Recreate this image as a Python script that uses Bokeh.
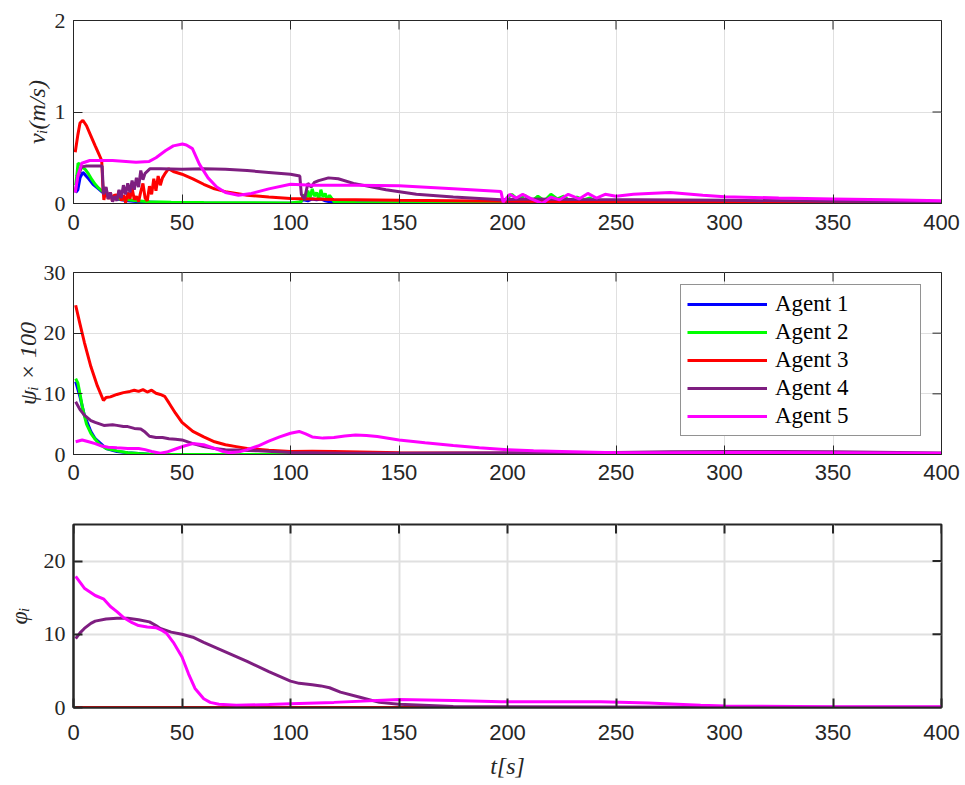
import math
from bokeh.plotting import figure
from bokeh.models import Range1d, FixedTicker, Legend, LegendItem
from bokeh.layouts import column
from bokeh.embed import file_html
from bokeh.resources import INLINE

# ---------------- data ----------------
agent_names = ["Agent 1", "Agent 2", "Agent 3", "Agent 4", "Agent 5"]
agent_colors = ["#0000ff", "#00ff00", "#ff0000", "#7e1e80", "#ff00ff"]

x_ticks = [0, 50, 100, 150, 200, 250, 300, 350, 400]
v_ticks = [0, 1, 2]
psi_ticks = [0, 10, 20, 30]
phi_ticks = [0, 10, 20]

# speed v_i (m/s): (t, value)
v_agent1 = [(1, 0.12), (2, 0.15), (3, 0.28), (4.3, 0.34), (5.5, 0.31), (7, 0.27), (9, 0.21),
            (11, 0.17), (13, 0.13), (16, 0.09), (20, 0.05), (25, 0.03), (30, 0.02), (40, 0.01),
            (60, 0.005), (100, 0.003), (104, 0.01), (106, 0.04), (108, 0.03), (110, 0.05),
            (112, 0.04), (114, 0.05), (116, 0.03), (118, 0.02), (120, 0.01), (150, 0.005),
            (200, 0.005), (300, 0.003), (400, 0.002)]
v_agent2 = [(1, 0.2), (1.5, 0.3), (2.1, 0.44), (3, 0.43), (4, 0.4), (5.5, 0.37), (7, 0.32),
            (8.5, 0.26), (10, 0.21), (11.5, 0.17), (13, 0.14), (15, 0.1), (18, 0.07), (21, 0.05),
            (25, 0.04), (29, 0.03), (35, 0.02), (45, 0.015), (60, 0.01), (80, 0.008), (100, 0.006),
            (105, 0.02), (106, 0.1), (107, 0.04), (108, 0.14), (109, 0.06), (110, 0.16), (111, 0.08),
            (112, 0.12), (113, 0.05), (114, 0.15), (115, 0.07), (116, 0.11), (117, 0.04), (118, 0.09),
            (120, 0.02), (130, 0.01), (150, 0.008), (198, 0.01), (200, 0.06), (202, 0.1), (205, 0.04),
            (208, 0.09), (211, 0.02), (214, 0.08), (217, 0.03), (220, 0.1), (223, 0.05), (226, 0.08),
            (229, 0.02), (232, 0.07), (235, 0.04), (238, 0.06), (241, 0.02), (245, 0.03), (250, 0.01),
            (300, 0.005), (400, 0.003)]
v_agent3 = [(0.8, 0.56), (2, 0.75), (3, 0.88), (4.3, 0.91), (6, 0.85), (8, 0.74), (10, 0.63),
            (11.5, 0.55), (13, 0.47), (13.5, 0.2), (14, 0.04), (15, 0.16), (16, 0.05), (17, 0.12),
            (18, 0.02), (19, 0.1), (20, 0.06), (21, 0.14), (22, 0.03), (23, 0.09), (24, 0.01),
            (25, 0.12), (26, 0.05), (27, 0.17), (28, 0.04), (29, 0.08), (30, 0.02), (31, 0.13),
            (32, 0.22), (33, 0.06), (34, 0.03), (35, 0.19), (36, 0.1), (37, 0.27), (38, 0.14),
            (39, 0.3), (40, 0.2), (41, 0.28), (42, 0.32), (43.8, 0.38), (46, 0.35), (50, 0.32),
            (55, 0.27), (60, 0.21), (65, 0.16), (70, 0.13), (80, 0.09), (90, 0.07), (100, 0.055),
            (120, 0.045), (150, 0.035), (200, 0.025), (250, 0.02), (300, 0.015), (350, 0.012),
            (400, 0.01)]
v_agent4 = [(0.8, 0.12), (2, 0.3), (3.8, 0.4), (6, 0.41), (9, 0.41), (12, 0.41), (13.2, 0.41),
            (13.8, 0.1), (15, 0.18), (16, 0.05), (17, 0.12), (18, 0.02), (19, 0.08), (20, 0.03),
            (21, 0.15), (22, 0.06), (23, 0.2), (24, 0.1), (25, 0.22), (26, 0.12), (27, 0.25),
            (28, 0.15), (29, 0.28), (30, 0.18), (31, 0.36), (32, 0.26), (33, 0.33), (35.3, 0.38),
            (40, 0.38), (50, 0.375), (60, 0.38), (70, 0.375), (80, 0.36), (90, 0.34), (100, 0.32),
            (104.3, 0.3), (105, 0.1), (106.5, 0.05), (108, 0.22), (109.5, 0.18), (111, 0.23),
            (113, 0.25), (117.5, 0.28), (122, 0.27), (129, 0.22), (144, 0.15), (158, 0.1),
            (175, 0.07), (197, 0.04), (210, 0.05), (230, 0.045), (260, 0.04), (300, 0.035),
            (350, 0.025), (400, 0.02)]
v_agent5 = [(0.8, 0.12), (2, 0.3), (3.8, 0.44), (7.5, 0.47), (18, 0.47), (28.8, 0.45), (34.9, 0.46),
            (38, 0.5), (42.5, 0.58), (46, 0.63), (50.2, 0.65), (52, 0.64), (54.8, 0.6), (58, 0.43),
            (62, 0.28), (66, 0.18), (70, 0.12), (76, 0.09), (82, 0.11), (90, 0.16), (100, 0.21),
            (110, 0.2), (130, 0.2), (150, 0.195), (175, 0.16), (197, 0.13), (198, 0.015), (201, 0.1),
            (204, 0.06), (207, 0.1), (211, 0.05), (216, 0.0), (220, 0.07), (224, 0.04), (228, 0.1),
            (233, 0.05), (237, 0.11), (241, 0.06), (245, 0.1), (250, 0.08), (258, 0.1), (265, 0.11),
            (275, 0.12), (290, 0.09), (300, 0.075), (325, 0.06), (350, 0.05), (375, 0.04), (400, 0.03)]

# psi_i x 100
psi_agent1 = [(1, 12), (3, 9.5), (5, 6.5), (8, 3.8), (10, 2.6), (15, 1.0), (20, 0.5), (25, 0.3),
              (35, 0.05), (50, 0.02), (400, 0.0)]
psi_agent2 = [(1, 12.5), (2, 11.8), (3, 10), (4, 8), (5, 6.4), (6, 5), (8, 3.5), (10, 2.5), (12, 1.7),
              (15, 1.0), (20, 0.6), (25, 0.3), (30, 0.15), (35, 0.05), (50, 0.02), (100, 0.01), (400, 0.0)]
psi_agent3 = [(1, 24.6), (3, 21.5), (5, 18.5), (8, 14.5), (11, 11.3), (13.8, 8.9), (15, 9.4), (17, 9.5),
              (20, 9.9), (23, 10.2), (26, 10.4), (28, 10.6), (30, 10.4), (32, 10.7), (34, 10.3),
              (36, 10.6), (38, 10.1), (40, 9.9), (42, 9.6), (44, 8.5), (47, 6.8), (50, 5.3), (55, 3.8),
              (60, 2.9), (65, 2.1), (70, 1.6), (75, 1.3), (80, 1.0), (90, 0.7), (100, 0.5), (110, 0.55),
              (120, 0.5), (150, 0.3), (200, 0.2), (250, 0.15), (300, 0.15), (400, 0.1)]
psi_agent4 = [(1, 8.7), (3, 7.4), (5, 6.5), (8, 5.6), (10, 5.3), (14, 4.8), (18, 4.9), (20, 4.8),
              (23, 4.6), (25, 4.6), (28, 4.3), (31, 4.2), (33, 3.7), (35, 3.0), (38, 2.8), (41, 2.8),
              (44, 2.6), (47, 2.5), (50, 2.4), (55, 1.8), (60, 1.3), (65, 1.0), (70, 0.8), (75, 0.75),
              (85, 0.6), (100, 0.35), (125, 0.2), (150, 0.2), (200, 0.3), (250, 0.35), (275, 0.45),
              (300, 0.5), (325, 0.5), (350, 0.45), (400, 0.25)]
psi_agent5 = [(1, 2.1), (4, 2.4), (7, 2.1), (10, 1.8), (13, 1.4), (16, 1.2), (20, 1.1), (25, 1.0),
              (30, 1.0), (33, 0.8), (36, 0.5), (40, 0.2), (43, 0.4), (47, 0.9), (51, 1.4), (55, 1.8),
              (60, 1.6), (65, 1.0), (69, 0.5), (72, 0.3), (76, 0.4), (80, 0.8), (85, 1.4), (90, 2.2),
              (95, 2.9), (100, 3.5), (104, 3.8), (107, 3.4), (110, 2.9), (115, 2.7), (120, 2.8),
              (125, 3.05), (130, 3.2), (135, 3.15), (140, 2.95), (150, 2.4), (162, 1.95), (175, 1.5),
              (187, 1.1), (200, 0.8), (212, 0.6), (225, 0.5), (250, 0.3), (275, 0.3), (300, 0.35),
              (350, 0.3), (400, 0.2)]

# phi_i
phi_agent1 = [(1, 0), (400, 0)]
phi_agent2 = [(1, 0), (400, 0)]
phi_agent3 = [(1, 0), (400, 0)]
phi_agent4 = [(1, 9.4), (3, 10.2), (5, 10.8), (8, 11.5), (10, 11.8), (15, 12.1), (20, 12.2), (25, 12.2),
              (30, 12.0), (35, 11.7), (38, 11.2), (40, 10.8), (45, 10.3), (50, 10.0), (55, 9.6),
              (60, 8.9), (70, 7.6), (80, 6.3), (90, 4.9), (100, 3.6), (104, 3.3), (110, 3.1),
              (114, 2.95), (118, 2.7), (123, 2.1), (132, 1.4), (141, 0.7), (150, 0.45), (175, 0.15),
              (200, 0.1), (300, 0.05), (400, 0.03)]
phi_agent5 = [(1, 17.9), (5, 16.3), (10, 15.3), (14, 14.8), (17, 13.8), (20, 13.1), (23, 12.3),
              (27, 11.6), (30, 11.2), (34, 11.0), (38, 10.9), (41, 10.5), (43, 10.1), (46, 8.9),
              (50, 6.9), (53, 4.6), (56, 2.6), (60, 1.2), (63, 0.7), (67, 0.45), (75, 0.3), (90, 0.4),
              (100, 0.5), (120, 0.7), (150, 1.1), (175, 0.95), (197, 0.8), (243, 0.8), (265, 0.6),
              (289, 0.3), (300, 0.2), (350, 0.1), (400, 0.1)]

v_series = [v_agent1, v_agent2, v_agent3, v_agent4, v_agent5]
psi_series = [psi_agent1, psi_agent2, psi_agent3, psi_agent4, psi_agent5]
phi_series = [phi_agent1, phi_agent2, phi_agent3, phi_agent4, phi_agent5]

# ---------------- styling ----------------
AX = "#262626"
GRID = "#e0e0e0"
SERIF = "Liberation Serif"
SANS = "Liberation Sans"
TICK_LEN = 9


def style_axis(ax, ticks, lw, font, standoff):
    ax.ticker = FixedTicker(ticks=ticks)
    ax.axis_line_color = AX
    ax.axis_line_width = lw
    ax.major_tick_line_color = AX
    ax.major_tick_line_width = lw
    ax.major_tick_in = TICK_LEN
    ax.major_tick_out = 0
    ax.minor_tick_line_color = None
    ax.major_label_text_color = AX
    ax.major_label_text_font = font
    ax.major_label_text_font_size = "22px"
    ax.major_label_standoff = standoff


def make_panel(series, y_max, y_ticks, y_label, y_label_standoff, b_top, b_bottom, frame_h,
               lw, x_standoff, x_label=None):
    p = figure(frame_width=868, frame_height=frame_h,
               x_range=Range1d(0, 400), y_range=Range1d(0, y_max),
               output_backend="svg", toolbar_location=None,
               min_border_left=73, min_border_right=24,
               min_border_top=b_top, min_border_bottom=b_bottom,
               background_fill_color="white", border_fill_color="white")
    p.outline_line_color = AX
    p.outline_line_width = lw

    xax = p.below[0]
    yax = p.left[0]
    style_axis(xax, x_ticks, lw, SANS, x_standoff)
    style_axis(yax, y_ticks, lw, SERIF, 8)

    yax.axis_label = y_label
    yax.axis_label_text_font = SERIF
    yax.axis_label_text_font_style = "italic"
    yax.axis_label_text_font_size = "24px"
    yax.axis_label_text_color = AX
    yax.axis_label_standoff = y_label_standoff
    if x_label:
        xax.axis_label = x_label
        xax.axis_label_text_font = SERIF
        xax.axis_label_text_font_style = "italic"
        xax.axis_label_text_font_size = "24px"
        xax.axis_label_text_color = AX
        xax.axis_label_standoff = 10

    p.xgrid.ticker = FixedTicker(ticks=x_ticks)
    p.ygrid.ticker = FixedTicker(ticks=y_ticks)
    for g in (p.xgrid, p.ygrid):
        g.grid_line_color = GRID
        g.grid_line_width = lw

    # inward ticks on the top and right edges (box on), clipped to the frame
    p.scatter(x_ticks, [y_max] * len(x_ticks), marker="dash", size=2 * TICK_LEN,
              angle=math.pi / 2, line_color=AX, line_width=lw)
    p.scatter([400] * len(y_ticks), y_ticks, marker="dash", size=2 * TICK_LEN,
              line_color=AX, line_width=lw)

    renderers = []
    for pts, col in zip(series, agent_colors):
        xs = [a for a, _ in pts]
        ys = [b for _, b in pts]
        r = p.line(xs, ys, line_color=col, line_width=3)
        renderers.append(r)
    return p, renderers


p1, r1 = make_panel(v_series, 2, v_ticks, "vᵢ(m/s)", 2, 20, 47, 183, 1, 11)
p2, r2 = make_panel(psi_series, 30, psi_ticks, "ψᵢ × 100", 0, 22, 47, 182, 1, 10)
p3, r3 = make_panel(phi_series, 25, phi_ticks, "φᵢ", 9, 23, 78, 183, 2, 17, x_label="t[s]")

legend = Legend(items=[LegendItem(label=n, renderers=[r]) for n, r in zip(agent_names, r2)],
                location=(607, 18))
legend.label_text_font = SERIF
legend.label_text_font_size = "23px"
legend.label_text_color = "#000000"
legend.glyph_width = 80
legend.glyph_height = 22
legend.label_height = 22
legend.label_width = 139
legend.label_standoff = 8
legend.spacing = 2
legend.padding = 6
legend.margin = 0
legend.border_line_color = AX
legend.border_line_width = 1
legend.background_fill_color = "white"
legend.background_fill_alpha = 1.0
p2.add_layout(legend)

layout = column(p1, p2, p3, spacing=0)
open("out.html", "w").write(file_html(layout, INLINE))
